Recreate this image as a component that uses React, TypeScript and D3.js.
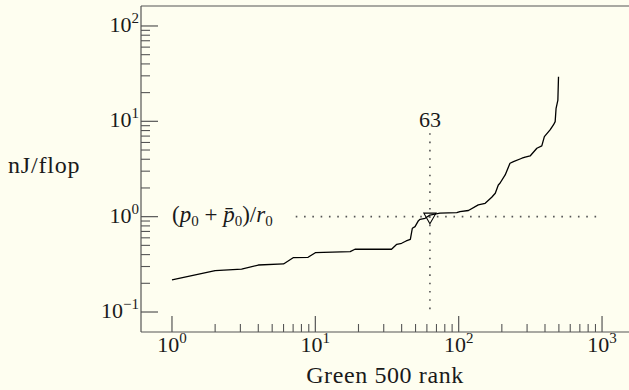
import * as d3 from 'd3';

// ─── Data ───────────────────────────────────────────────────

// Green 500 rank vs energy per flop (nJ/flop)
const ranks = [
  1, 2, 3.06, 4, 6, 7, 8.9, 10, 11.4, 17.5,
  18.9, 34, 37, 40, 43, 46, 47.5, 49.6, 52.4, 53.8,
  58.3, 63, 74, 97, 102, 117, 137, 153, 170, 180,
  189, 194, 211, 228, 241, 276, 291, 315, 351, 380,
  396, 434, 458, 471, 478, 492, 497,
];
const energy = [
  0.217, 0.271, 0.281, 0.311, 0.319, 0.371, 0.375, 0.419, 0.423, 0.43,
  0.455, 0.455, 0.513, 0.526, 0.556, 0.579, 0.756, 0.785, 0.908, 0.939,
  0.962, 1.04, 1.09, 1.1, 1.13, 1.16, 1.33, 1.38, 1.6, 1.76,
  2.15, 2.24, 2.74, 3.63, 3.78, 4.1, 4.2, 4.33, 5.22, 5.52,
  6.9, 8.12, 9.16, 9.93, 13.7, 16.7, 29.4,
];

const xTickExps = [0, 1, 2, 3];
const yTickExps = [-1, 0, 1, 2];

// reference point: rank 63 at (p0 + p̄)/r0 = 1 nJ/flop
const markRank = 63;
const markValue = 1.0;
const hLineRanks = [7.3, 950];
const vLineValues = [0.098, 7.5];
const labelRank = 1;

const xDomain: [number, number] = [0.608, 1542];
const yDomain: [number, number] = [0.0617, 162];

// ─── Layout ─────────────────────────────────────────────────

const W = 629;
const H = 390;
const plot = { left: 141, right: 629, top: 6, bottom: 332 };

const BG = '#fefef0';
const INK = '#1a1a1a';
const AXIS = '#555';
const FONT = '"Liberation Serif", "DejaVu Serif", serif';

const sup = (e: number) => (e < 0 ? `\u2212${-e}` : `${e}`);

export default function App() {
  const x = d3.scaleLog().domain(xDomain).range([plot.left, plot.right]);
  const y = d3.scaleLog().domain(yDomain).range([plot.bottom, plot.top]);

  const pts = ranks.map((r, i) => [r, energy[i]] as [number, number]);
  const line = d3.line<[number, number]>()
    .x((d) => x(d[0]))
    .y((d) => y(d[1]));

  // minor ticks 2..9 within the labelled decades
  const minor = (exps: number[]) => {
    const out: number[] = [];
    for (let e = exps[0]; e < exps[exps.length - 1]; e++) {
      for (let m = 2; m <= 9; m++) out.push(m * Math.pow(10, e));
    }
    return out;
  };
  const xMinor = minor(xTickExps);
  const yMinor = minor(yTickExps);

  const tri = d3.symbol().type(d3.symbolTriangle).size(64)();

  const mx = x(markRank);
  const my = y(markValue);

  return (
    <div style={{ position: 'fixed', left: 0, top: 0 }}>
      <svg width={W} height={H} style={{ display: 'block', background: BG }} fontFamily={FONT}>
        <rect width={W} height={H} fill={BG} />

        {/* frame */}
        <line x1={plot.left} x2={plot.right} y1={plot.top} y2={plot.top} stroke={AXIS} strokeWidth={1.2} />
        <line x1={plot.left} x2={plot.right} y1={plot.bottom} y2={plot.bottom} stroke={AXIS} strokeWidth={1.2} />
        <line x1={plot.left} x2={plot.left} y1={plot.top} y2={plot.bottom} stroke={AXIS} strokeWidth={1.2} />

        {/* x ticks */}
        {xTickExps.map((e) => (
          <g key={`xt${e}`}>
            <line x1={x(10 ** e)} x2={x(10 ** e)} y1={plot.bottom} y2={plot.bottom - 16} stroke={AXIS} strokeWidth={1.2} />
            <text x={x(10 ** e)} y={352} textAnchor="middle" fontSize={22} fill={INK}>
              10<tspan fontSize={15} dy={-9}>{sup(e)}</tspan>
            </text>
          </g>
        ))}
        {xMinor.map((v) => (
          <line key={`xm${v}`} x1={x(v)} x2={x(v)} y1={plot.bottom} y2={plot.bottom - 8} stroke={AXIS} strokeWidth={1.1} />
        ))}

        {/* y ticks */}
        {yTickExps.map((e) => (
          <g key={`yt${e}`}>
            <line x1={plot.left} x2={plot.left + 17} y1={y(10 ** e)} y2={y(10 ** e)} stroke={AXIS} strokeWidth={1.2} />
            <text x={139} y={y(10 ** e) + 6} textAnchor="end" fontSize={22} fill={INK}>
              10<tspan fontSize={15} dy={-9}>{sup(e)}</tspan>
            </text>
          </g>
        ))}
        {yMinor.map((v) => (
          <line key={`ym${v}`} x1={plot.left} x2={plot.left + 9} y1={y(v)} y2={y(v)} stroke={AXIS} strokeWidth={1.1} />
        ))}

        {/* reference lines */}
        <line x1={x(hLineRanks[0])} x2={x(hLineRanks[1])} y1={my} y2={my}
          stroke={AXIS} strokeWidth={1.6} strokeDasharray="1.6 6.7" />
        <line x1={mx} x2={mx} y1={y(vLineValues[1])} y2={y(vLineValues[0])}
          stroke={AXIS} strokeWidth={1.6} strokeDasharray="1.6 6.7" />

        {/* curve */}
        <path d={line(pts) ?? ''} fill="none" stroke="#000" strokeWidth={1.3} strokeLinejoin="round" />

        {/* marker */}
        <path d={tri ?? ''} transform={`translate(${mx},${my}) rotate(180)`} fill="none" stroke="#000" strokeWidth={1.1} />

        {/* annotations */}
        <text x={mx} y={127} textAnchor="middle" fontSize={22} fill={INK}>{markRank}</text>
        <text x={x(labelRank)} y={my + 5} fontSize={23} fill={INK}>
          (<tspan fontStyle="italic">p</tspan>
          <tspan fontSize={15} dy={4}>0</tspan>
          <tspan dy={-4}>{'\u2005+\u2005'}</tspan>
          <tspan fontStyle="italic">{'p\u0304'}</tspan>
          <tspan fontSize={15} dy={4}>0</tspan>
          <tspan dy={-4}>)/</tspan>
          <tspan fontStyle="italic">r</tspan>
          <tspan fontSize={15} dy={4}>0</tspan>
        </text>

        {/* axis titles */}
        <text x={8} y={173} fontSize={24} letterSpacing={0.8} fill={INK}>nJ/flop</text>
        <text x={(plot.left + plot.right) / 2} y={383} textAnchor="middle" fontSize={24} letterSpacing={0.6} fill={INK}>
          Green 500 rank
        </text>
      </svg>
    </div>
  );
}
